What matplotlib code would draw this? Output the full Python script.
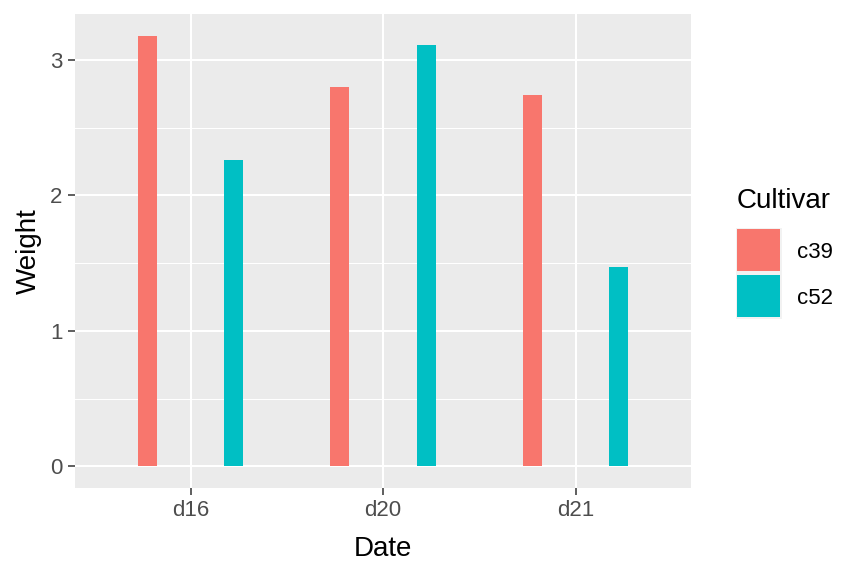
import matplotlib
matplotlib.use("Agg")
import matplotlib.pyplot as plt
from matplotlib.patches import Rectangle
import numpy as np

dates = ["d16", "d20", "d21"]
cultivars = ["c39", "c52"]
weight_c39 = [3.18, 2.80, 2.74]
weight_c52 = [2.26, 3.11, 1.47]
colors = {"c39": "#F8766D", "c52": "#00BFC4"}

plt.rcParams["font.family"] = ["Liberation Sans", "DejaVu Sans"]

W, H = 864, 576
fig = plt.figure(figsize=(W / 100, H / 100), dpi=100)
fig.patch.set_facecolor("white")

def fx(px):
    return px / W

def fy(py):
    return 1 - py / H

left, right, top, bottom = 75, 691, 14, 488
ax = fig.add_axes([fx(left), fy(bottom), fx(right) - fx(left), fy(top) - fy(bottom)])
ax.set_facecolor("#EBEBEB")
for s in ax.spines.values():
    s.set_visible(False)

x = np.arange(1, len(dates) + 1)
dodge = 0.9
bw = 0.1
series = {"c39": weight_c39, "c52": weight_c52}
for i, c in enumerate(cultivars):
    off = (i - 0.5) * dodge / 2
    ax.bar(x + off, series[c], width=bw, color=colors[c], zorder=3, linewidth=0)

ymax = max(max(weight_c39), max(weight_c52))
ax.set_xlim(0.4, len(dates) + 0.6)
ax.set_ylim(-0.05 * ymax, ymax * 1.05)

ax.set_xticks(x)
ax.set_xticklabels(dates)
ax.set_yticks([0, 1, 2, 3])
ax.set_yticks([0.5, 1.5, 2.5], minor=True)
ax.tick_params(axis="both", which="major", length=5, width=1.1, color="#333333",
               labelcolor="#4D4D4D", labelsize=16, pad=4)
ax.tick_params(axis="y", which="minor", length=0)
ax.grid(which="major", color="white", linewidth=1.5, zorder=0)
ax.grid(which="minor", axis="y", color="white", linewidth=0.75, zorder=0)
ax.set_axisbelow(True)

fig.text(fx((left + right) / 2), fy(556), "Date", ha="center", va="baseline", fontsize=20, color="black")
fig.text(fx(29), fy((top + bottom) / 2), "Weight", ha="center", va="center", rotation=90,
         fontsize=20, color="black")

# Legend
fig.text(fx(737), fy(208), "Cultivar", ha="left", va="baseline", fontsize=20, color="black")
key_x0, key_w = 737, 43
key_tops = [229, 275]
key_h = 42
fig.add_artist(Rectangle((fx(735.5), fy(318.5)), fx(781.5) - fx(735.5), fy(227.5) - fy(318.5),
                         transform=fig.transFigure, facecolor="#F2F2F2", edgecolor="none"))
for c, kt in zip(cultivars, key_tops):
    fig.add_artist(Rectangle((fx(key_x0), fy(kt + key_h)), fx(key_w), fy(kt) - fy(kt + key_h),
                             transform=fig.transFigure, facecolor=colors[c], edgecolor="none"))
    fig.text(fx(797), fy(kt + key_h / 2), c, ha="left", va="center_baseline", fontsize=16, color="black")

fig.savefig("out.png", dpi=100)
